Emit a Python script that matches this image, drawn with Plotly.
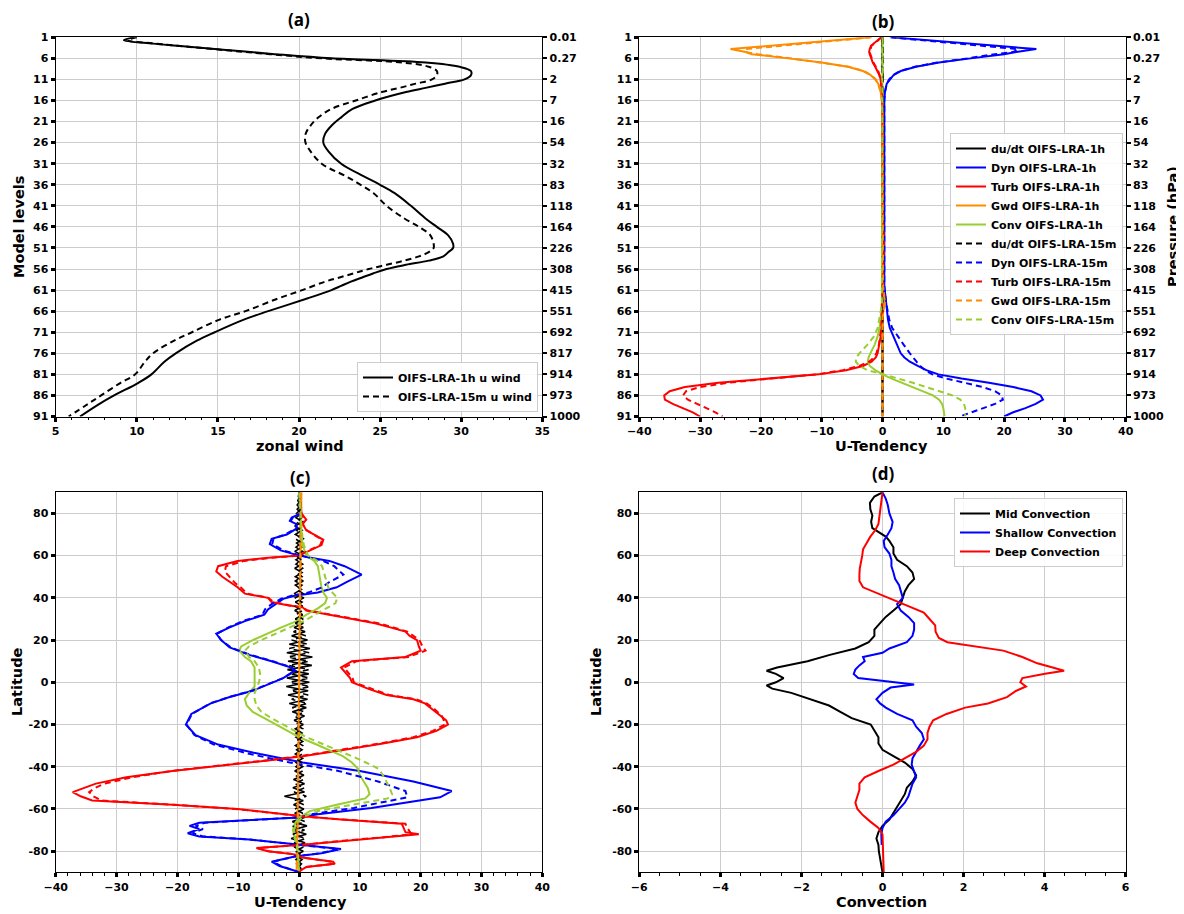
import plotly.graph_objects as go

# ---------------- DATA ----------------
# Panel (a): zonal wind vs model level
lev_a1 = [1, 1.7, 2.5, 3, 4, 5, 6, 7, 8, 9, 10, 11, 12, 13, 14, 16, 18, 20, 22, 24, 26, 28, 31, 34, 36, 38, 41, 44, 46, 48, 50, 51, 52,
          53, 54, 55, 56, 57, 58, 59, 60, 61, 63, 66, 68, 71, 73, 76, 78, 81, 83, 86, 88, 91]
u_1h = [9.8, 9.2, 11.0, 12.5, 15.5, 18.5, 22.0, 27.8, 29.9, 30.6, 30.6, 30.2, 29.0, 27.8, 26.6, 24.7, 23.3, 22.6, 22.0, 21.6, 21.5, 21.8,
        22.6, 24.0, 25.0, 25.9, 26.9, 27.8, 28.5, 29.2, 29.5, 29.5, 29.2, 28.9, 28.0, 26.6, 25.4, 24.6, 23.9, 23.2, 22.6, 22.0, 20.5,
        18.1, 16.6, 14.8, 13.7, 12.4, 11.7, 10.9, 10.1, 8.6, 7.7, 6.5]
lev_a2 = [1, 1.7, 2.5, 3, 4, 5, 6, 7, 8, 9, 10, 11, 12, 13, 14, 16, 18, 20, 22, 24, 26, 28, 31, 34, 36, 38, 41, 44, 46, 48, 50, 51, 52,
          53, 54, 55, 56, 57, 58, 59, 61, 63, 66, 68, 71, 73, 76, 78, 81, 83, 86, 88, 91]
u_15m = [10.0, 9.4, 11.2, 12.5, 15.3, 18.2, 21.4, 26.4, 28.0, 28.5, 28.5, 28.2, 27.2, 26.2, 25.1, 23.5, 22.0, 21.2, 20.7, 20.4, 20.4,
         20.7, 21.4, 22.9, 23.8, 24.6, 25.4, 26.5, 27.4, 28.1, 28.3, 28.3, 28.0, 27.4, 26.5, 25.4, 24.3, 23.4, 22.5, 21.6, 20.2,
         18.7, 16.7, 15.1, 13.4, 12.3, 11.0, 10.5, 9.9, 9.0, 7.8, 7.0, 5.8]

level_ticks = [1, 6, 11, 16, 21, 26, 31, 36, 41, 46, 51, 56, 61, 66, 71, 76, 81, 86, 91]
pressure_labels = ["0.01", "0.27", "2", "7", "16", "54", "32", "83", "118", "164", "226", "308", "415", "551",
                   "692", "817", "914", "973", "1000"]

# Panel (b): U-tendency profiles vs model level
lev_b = [1, 2, 3, 3.8, 4.5, 5, 6, 7, 8, 9, 10, 11, 12, 14, 16, 20, 30, 40, 50, 60,
         64, 66, 68, 70, 72, 74, 76, 77, 78, 79, 80, 81, 82, 83, 84, 85, 86, 87, 88, 89, 90, 91]
dudt_1h = [0.0, 0.1, -0.1, 0.1, 0.0, -0.1, 0.1, 0.0, -0.1, 0.0, 0.1, 0.0, -0.1, 0.0, 0.0, 0.0, 0.0, 0.0, 0.0, 0.0,
           0.0, 0.0, 0.0, 0.0, 0.0, 0.0, 0.0, 0.0, 0.0, 0.0, 0.0, 0.0, 0.0, 0.0, 0.0, 0.0, 0.0, 0.0, 0.0, 0.0, 0.0, 0.0]
dyn_1h = [1.5, 9.5, 17.5, 25.3, 22.0, 20.0, 14.5, 9.3, 5.5, 3.0, 1.8, 1.2, 0.7, 0.4, 0.3, 0.3, 0.3, 0.3, 0.3, 0.3,
          0.6, 0.7, 0.9, 1.2, 1.8, 2.4, 3.0, 3.6, 4.5, 5.8, 7.2, 9.2, 13.0, 17.5, 21.5, 24.5, 26.0, 26.4, 25.2, 23.5, 21.5, 20.0]
turb_1h = [-0.2, -1.0, -1.9, -2.1, -2.2, -2.1, -1.9, -1.6, -1.2, -0.8, -0.5, -0.3, -0.2, -0.1, -0.05, 0.0, 0.0, 0.0, 0.2, 0.0,
           0.0, 0.0, -0.1, -0.2, -0.3, -0.5, -0.8, -1.1, -1.8, -3.2, -6.0, -10.5, -19.0, -27.0, -32.5, -35.0, -35.9, -35.8,
           -34.5, -32.8, -31.2, -30.0]
gwd_1h = [-2.0, -10.0, -18.0, -25.0, -22.5, -21.5, -15.5, -10.0, -5.7, -3.2, -1.9, -1.2, -0.7, -0.3, -0.1, 0.0, 0.0, 0.0, 0.0, 0.1,
          0.4, 0.1, 0.0, 0.0, 0.0, 0.0, 0.0, 0.0, 0.0, 0.0, 0.0, 0.0, 0.0, 0.0, 0.0, 0.0, 0.0, 0.0, 0.0, 0.0, 0.0, 0.0]
conv_1h = [0.0, 0.0, 0.0, 0.0, 0.0, 0.0, 0.0, 0.0, 0.0, 0.0, 0.0, 0.0, 0.0, 0.0, 0.0, 0.0, 0.0, 0.0, 0.0, 0.0,
           -0.1, -0.2, -0.3, -0.5, -0.8, -1.3, -2.0, -2.3, -2.4, -2.1, -1.2, 0.0, 1.5, 3.2, 4.9, 6.8, 8.3, 9.3, 9.8, 10.0, 10.1, 10.2]
dudt_15m = [0.0, -0.1, 0.1, 0.0, 0.1, 0.0, -0.1, 0.1, 0.0, -0.1, 0.0, 0.1, 0.0, 0.0, 0.0, 0.0, 0.0, 0.0, 0.0, 0.0,
            0.0, 0.0, 0.0, 0.0, 0.0, 0.0, 0.0, 0.0, 0.0, 0.0, 0.0, 0.0, 0.0, 0.0, 0.0, 0.0, 0.0, 0.0, 0.0, 0.0, 0.0, 0.0]
dyn_15m = [1.3, 8.5, 16.0, 22.3, 21.5, 18.5, 14.0, 9.0, 5.3, 2.9, 1.7, 1.1, 0.7, 0.4, 0.3, 0.3, 0.3, 0.3, 0.3, 0.3,
           0.6, 0.8, 1.1, 1.6, 2.5, 3.5, 4.5, 5.0, 5.6, 6.2, 7.0, 8.2, 10.5, 13.5, 16.5, 18.5, 19.6, 19.8, 18.5, 16.6, 14.5, 12.7]
turb_15m = [-0.2, -0.9, -1.8, -2.0, -2.1, -2.0, -1.8, -1.5, -1.1, -0.7, -0.5, -0.3, -0.2, -0.1, -0.05, 0.0, 0.0, 0.0, 0.2, 0.0,
            0.0, 0.0, -0.1, -0.2, -0.4, -0.6, -1.0, -1.4, -2.2, -3.8, -6.5, -10.8, -18.5, -25.5, -30.0, -32.3, -32.8, -32.0,
            -30.5, -29.0, -27.5, -26.3]
gwd_15m = [-1.8, -9.0, -16.5, -22.5, -22.5, -20.5, -15.0, -9.8, -5.5, -3.1, -1.8, -1.1, -0.7, -0.3, -0.1, 0.0, 0.0, 0.0, 0.0, 0.1,
           0.4, 0.1, 0.0, 0.0, 0.0, 0.0, 0.0, 0.0, 0.0, 0.0, 0.0, 0.0, 0.0, 0.0, 0.0, 0.0, 0.0, 0.0, 0.0, 0.0, 0.0, 0.0]
conv_15m = [0.0, 0.0, 0.0, 0.0, 0.0, 0.0, 0.0, 0.0, 0.0, 0.0, 0.0, 0.0, 0.0, 0.0, 0.0, 0.0, 0.0, 0.0, 0.0, 0.0,
            -0.1, -0.3, -0.5, -0.8, -1.4, -2.5, -3.8, -4.3, -4.4, -3.8, -2.5, 0.3, 2.6, 5.0, 7.3, 9.5, 11.5, 12.8, 13.4, 13.6,
            13.6, 13.6]

# Panel (c): U-tendency vs latitude
lat_dyn = [90, 85, 80, 78, 76.5, 75, 73, 70, 68, 65.5, 62.5, 60, 57.5, 55, 51, 47.5, 45, 42.5, 41, 39.5, 37, 34.5, 32, 29, 26,
           23, 20, 16.5, 13, 10, 7, 5.5, 2, -1, -4, -7, -10, -15, -20, -25, -29.5, -34, -38, -42, -47, -51.5, -54.5, -59.5,
           -62.5, -64, -66.5, -68, -69.5, -71.5, -73, -74.5, -77, -79, -81, -82.5, -85, -87, -89.5, -90]
dyn_c_1h = [0.0, 0.2, 0.3, -1.2, -1.5, -0.5, -0.3, -2.0, -4.5, -4.8, -3.0, 0.0, 5.0, 7.5, 10.3, 7.8, 6.2, 3.1, -0.7, -2.6, -3.8,
            -5.1, -5.7, -8.9, -11.4, -13.6, -12.8, -11.4, -8.2, -4.5, -1.3, -0.7, -2.6, -5.1, -7.6, -11.4, -14.5, -17.7, -18.6,
            -17.0, -13.3, -6.4, 0.6, 10.0, 18.8, 25.1, 23.2, 11.9, 3.1, 0.0, -16.4, -18.0, -16.4, -18.3, -16.4, -8.2, 0.0, 6.9,
            3.7, -0.7, -4.5, -3.2, -0.4, 0.0]
dyn_c_15m = [0.0, 0.2, 0.3, -1.0, -1.4, -0.5, -0.4, -2.3, -4.2, -4.4, -2.6, 0.3, 4.0, 5.8, 7.3, 5.0, 3.8, 1.5, -1.2, -3.0, -4.5,
             -5.6, -6.0, -9.2, -11.6, -13.5, -12.8, -11.2, -8.0, -4.3, -1.2, -0.6, -2.6, -5.2, -7.8, -11.5, -14.6, -17.6, -18.5,
             -17.2, -14.0, -8.0, -1.5, 6.5, 13.0, 17.5, 17.8, 9.0, 2.0, 0.0, -15.5, -17.0, -15.8, -17.5, -15.8, -8.0, 0.0, 6.5,
             3.5, -0.7, -4.3, -3.0, -0.4, 0.0]
lat_turb = [90, 85, 80, 77, 75, 72, 70, 67.5, 65, 62.5, 60, 59, 57.5, 55, 52.5, 50, 47, 45, 42, 40, 38, 36.5, 35.5, 34, 32, 30, 28,
            26, 24, 22, 20, 17, 15, 12, 10, 7, 5, 2, 0, -3, -6, -8, -10, -13, -16, -18, -20, -23, -26, -29, -32, -35, -37, -39,
            -42, -45, -48, -50, -52, -54, -56, -58, -60, -62, -63.5, -65, -67, -69, -71, -72, -73.5, -75, -77, -78.5, -80, -81.5,
            -83, -85, -86, -87.5, -89, -90]
turb_c_1h = [0.0, 0.3, 0.4, 1.2, 0.6, 1.2, 2.5, 4.0, 3.7, 1.8, 0.0, -5.1, -10.1, -13.3, -13.6, -12.6, -11.1, -10.1, -8.9, -5.1,
             -4.5, -1.9, 0.6, 1.2, 5.0, 8.7, 12.5, 15.0, 17.5, 18.2, 19.4, 19.7, 20.0, 17.5, 8.7, 6.9, 7.5, 8.4, 8.7, 11.3, 14.4,
             18.8, 20.7, 22.0, 23.2, 24.2, 24.5, 22.6, 19.4, 13.8, 7.5, 0.6, -5.1, -11.4, -20.8, -28.4, -33.4, -35.3, -37.2, -35.9,
             -34.0, -20.8, -10.1, -3.8, 0.6, 6.9, 16.9, 17.2, 17.5, 19.7, 13.8, 7.5, 0.6, -7.0, -5.1, -0.7, 0.5, 5.6, 5.9, 1.2,
             0.3, 0.0]
turb_c_15m = [0.0, 0.3, 0.4, 1.0, 0.6, 1.3, 2.4, 3.8, 3.5, 1.6, 0.0, -4.5, -9.0, -12.0, -12.2, -11.5, -10.5, -9.6, -8.5, -5.0,
              -4.2, -1.7, 0.6, 1.4, 5.5, 9.2, 13.0, 15.5, 17.8, 18.8, 19.8, 20.3, 20.8, 18.0, 9.5, 7.4, 8.0, 8.8, 9.0, 11.8, 14.8,
              19.2, 21.0, 22.4, 23.5, 23.8, 24.0, 22.0, 18.8, 13.3, 7.0, 0.2, -5.5, -12.0, -21.0, -27.5, -32.0, -33.5, -34.5,
              -33.8, -32.5, -20.5, -10.5, -4.0, 0.4, 7.2, 17.5, 17.8, 18.2, 18.5, 13.5, 7.3, 0.6, -6.8, -5.0, -0.7, 0.5, 5.4, 5.6,
              1.2, 0.3, 0.0]
lat_conv = [90, 80, 70, 65, 60, 57.5, 55, 50, 45, 42.5, 40, 37.5, 35, 32, 29, 26, 23, 20, 17, 15, 12, 10, 7, 4, 1, -2, -5, -8,
            -11, -14, -17, -20, -23, -26, -29, -32, -35, -38, -41, -44, -47, -50, -53, -55, -58, -61, -64, -67, -70, -73, -76,
            -80, -90]
conv_c_1h = [0.0, 0.3, 0.4, 0.6, 1.2, 2.5, 3.1, 3.4, 3.7, 4.0, 4.6, 4.3, 3.1, 1.2, -0.4, -2.9, -5.4, -7.6, -9.5, -9.8, -8.9, -7.9,
             -7.3, -7.3, -7.2, -7.3, -8.2, -8.9, -8.6, -7.6, -5.7, -3.8, -1.9, 0.0, 2.5, 5.0, 7.2, 8.7, 9.7, 10.0, 10.6, 11.3,
             11.6, 10.9, 6.2, 1.8, 0.0, -0.7, -1.0, -0.8, -0.5, -0.2, 0.0]
conv_c_15m = [0.0, 0.3, 0.5, 0.8, 1.5, 3.0, 3.8, 4.3, 4.8, 5.5, 6.3, 6.0, 4.5, 2.5, 0.8, -1.5, -4.0, -6.2, -8.2, -8.9, -8.2, -7.3,
              -6.6, -6.4, -6.5, -6.8, -7.3, -7.3, -7.0, -6.2, -4.5, -2.6, -0.6, 1.2, 3.7, 6.3, 8.7, 11.0, 13.1, 13.8, 14.4, 14.9,
              15.3, 14.6, 8.7, 3.1, 0.5, -0.5, -0.8, -0.7, -0.4, -0.2, 0.0]
lat_gwd = [90, 60, 30, 0, -30, -60, -90]
gwd_c_1h = [0.4, 0.3, 0.1, 0.0, -0.1, -0.2, -0.4]
gwd_c_15m = [0.3, 0.2, 0.1, 0.0, -0.1, -0.2, -0.3]
lat_dudt = [90, 88, 86, 84, 82, 80, 78, 76, 74, 72, 70, 68, 66, 64, 62, 60, 58, 56, 54, 52, 50, 48, 46, 44, 42, 40, 38, 36, 34,
            32, 30, 28, 26, 24, 22, 20, 18, 16, 14, 12, 10, 8, 6, 4, 2, 0, -2, -4, -6, -8, -10, -12, -14, -16, -18, -20, -22, -24,
            -26, -28, -30, -32, -34, -36, -38, -40, -42, -44, -46, -48, -50, -52, -54, -56, -58, -60, -62, -64, -66, -68, -70,
            -72, -74, -76, -78, -80, -82, -84, -86, -88, -90]
dudt_c_1h = [0.0, 0.1, -0.2, 0.3, -0.3, 0.4, -0.5, 0.6, -0.7, 0.5, -0.6, 0.7, -0.4, 0.5, -0.7, 0.6, -0.5, 0.6, -0.7, 0.5, -0.6,
             0.7, -0.6, 0.4, -0.8, 0.8, -0.6, 0.6, -0.7, 0.6, -0.6, 0.7, -0.8, 1.0, -1.2, 1.4, -1.6, 1.8, -2.0, 2.2, -1.8, 2.1,
             -1.9, 1.6, -2.0, 1.7, -2.1, 1.5, -1.8, 1.4, -1.6, 1.2, -1.1, 0.9, -0.8, 0.7, -0.6, 0.5, -0.5, 0.6, -0.6, 0.5, -0.6,
             0.6, -0.5, 0.6, -0.7, 0.8, -0.9, 0.9, -1.0, 0.9, -2.4, 0.7, -0.9, 0.8, -0.7, 0.9, -1.1, 1.3, -1.0, 1.2, -1.3, 1.0,
             -0.8, 0.7, -0.6, 0.5, -0.4, 0.3, 0.0]
dudt_c_15m = [0.0, -0.1, 0.2, -0.3, 0.3, -0.4, 0.4, -0.5, 0.6, -0.4, 0.5, -0.6, 0.4, -0.5, 0.6, -0.5, 0.4, -0.5, 0.6, -0.4, 0.5,
              -0.6, 0.5, -0.4, 0.7, -0.6, 0.5, -0.6, 0.6, -0.5, 0.6, -0.6, 0.7, -0.9, 1.1, -1.2, 1.4, -1.6, 1.7, -1.8, 1.6, -1.7,
              1.6, -1.4, 1.7, -1.5, 1.8, -1.3, 1.5, -1.2, 1.4, -1.1, 0.9, -0.8, 0.7, -0.6, 0.6, -0.5, 0.4, -0.5, 0.6, -0.4, 0.5,
              -0.6, 0.4, -0.5, 0.6, -0.7, 0.8, -0.7, 0.9, -0.8, 1.2, -0.7, 0.8, -0.7, 0.6, -0.8, 1.0, -1.1, 0.9, -1.0, 1.1, -0.8,
              0.7, -0.6, 0.5, -0.5, 0.4, -0.2, 0.0]

# Panel (d): convection vs latitude
lat_mid = [90, 88, 85, 82, 79, 76, 73, 71, 69, 67, 64, 61, 58, 55, 52, 49, 46, 43, 40, 37, 34, 31, 28, 25, 22, 19, 16, 13, 10, 7,
           5.5, 4, 2, 0, -1.5, -3, -5, -8, -11, -14, -17, -20, -23, -26, -29, -32, -35, -38, -41, -44, -47, -50, -53, -56, -59,
           -62, -65, -68, -71, -74, -77, -80, -83, -86, -90]
mid_conv = [0.0, -0.2, -0.31, -0.3, -0.25, -0.28, -0.25, -0.1, 0.08, 0.17, 0.27, 0.27, 0.36, 0.6, 0.74, 0.78, 0.64, 0.55, 0.5,
            0.45, 0.27, 0.08, -0.06, -0.2, -0.2, -0.34, -0.67, -1.3, -1.85, -2.6, -2.86, -2.63, -2.44, -2.63, -2.86, -2.72,
            -2.25, -1.79, -1.32, -1.04, -0.76, -0.29, -0.2, -0.1, -0.1, 0.0, 0.27, 0.55, 0.74, 0.83, 0.74, 0.6, 0.55, 0.45,
            0.36, 0.27, 0.17, 0.0, -0.1, -0.15, -0.1, -0.09, -0.06, -0.03, 0.0]
lat_shallow = [90, 87, 84, 80, 76, 73, 70, 67, 64, 61, 58, 55, 52, 49, 46, 43, 40, 37, 34, 31, 28, 25, 22, 19, 16, 14, 12, 10, 8,
               6, 4, 2, 0, -1, -2.5, -5, -8, -10, -12, -15, -18, -21, -24, -27, -30, -33, -36, -39, -42, -45, -48, -51, -54, -57,
               -60, -63, -66, -69, -72, -75, -77]
shallow_conv = [0.0, 0.08, 0.13, 0.17, 0.25, 0.22, 0.13, 0.03, 0.05, 0.17, 0.22, 0.22, 0.27, 0.31, 0.41, 0.45, 0.5, 0.36, 0.45,
                0.64, 0.78, 0.78, 0.74, 0.6, 0.17, 0.0, -0.48, -0.44, -0.57, -0.67, -0.71, -0.6, 0.3, 0.78, 0.2, 0.0, -0.15,
                -0.06, 0.08, 0.36, 0.74, 0.83, 0.97, 1.02, 0.92, 0.83, 0.74, 0.72, 0.78, 0.83, 0.74, 0.69, 0.64, 0.55, 0.41, 0.27,
                0.08, 0.0, -0.03, -0.03, -0.02]
lat_deep = [90, 85, 80, 75, 72, 69, 66, 63, 60, 57, 54, 51, 48, 45, 42, 39, 36, 33, 30, 27, 24, 21, 19, 17, 15, 12, 9, 7, 5.5, 4,
            2, 0, -2, -4, -7, -10, -12, -15, -18, -21, -24, -27, -30, -33, -36, -39, -42, -45, -48, -51, -54, -57, -60, -63, -66,
            -69, -72, -76, -80, -90]
deep_conv = [0.0, -0.03, -0.06, -0.1, -0.18, -0.3, -0.39, -0.48, -0.5, -0.53, -0.56, -0.57, -0.57, -0.48, -0.1, 0.27, 0.64, 1.02,
             1.16, 1.3, 1.31, 1.39, 1.6, 2.3, 2.98, 3.45, 3.82, 4.2, 4.48, 4.01, 3.45, 3.4, 3.54, 3.3, 3.07, 2.6, 2.04, 1.58, 1.25,
             1.16, 1.11, 1.11, 1.02, 0.83, 0.55, 0.27, -0.1, -0.44, -0.57, -0.57, -0.62, -0.67, -0.62, -0.48, -0.3, -0.1, 0.0,
             0.01, 0.02, 0.03]

# ---------------- STYLE ----------------
OFF = 8  # page body margin in the browser
W, H = 1184 - OFF, 914 - OFF
BLUE, RED, ORANGE, GREEN, BLACK = "#0000ff", "#ff0000", "#ff8c00", "#9acd32", "#000000"
DASH = "6px,4px"
TF = dict(family="DejaVu Sans", size=11, color="black", weight="bold")
LF = dict(family="DejaVu Sans", size=11, color="black", weight="bold")
AF = dict(family="DejaVu Sans", size=14.5, color="black", weight="bold")
PF = dict(family="Open Sans", size=17, color="black", weight="bold")

def px_x(p):
    return (p - OFF) / W

def px_y(p):
    return 1 - (p - OFF) / H

dom_x_left = [px_x(55.7), px_x(542.3)]
dom_x_right = [px_x(639.3), px_x(1125.7)]
dom_y_top = [px_y(416.5), px_y(37.3)]
dom_y_bot = [px_y(872.3), px_y(492.3)]

fig = go.Figure()

def add(x, y, color, dash, name, xa, ya, legend=None, show=True, shape="linear", width=2):
    fig.add_trace(go.Scatter(
        x=x, y=y, mode="lines", name=name, xaxis=xa, yaxis=ya,
        line=dict(color=color, width=width, dash=dash, shape=shape),
        showlegend=show and legend is not None, legend=legend if legend else "legend",
        hoverinfo="skip"))

# Panel (a)
add(u_1h, lev_a1, BLACK, "solid", "OIFS-LRA-1h u wind", "x", "y", "legend", shape="spline")
add(u_15m, lev_a2, BLACK, DASH, "OIFS-LRA-15m u wind", "x", "y", "legend", shape="spline")
fig.add_trace(go.Scatter(x=u_1h, y=lev_a1, xaxis="x", yaxis="y5", mode="lines", opacity=0,
                         showlegend=False, hoverinfo="skip"))

# Panel (b)
b1 = [(dudt_1h, BLACK, "du/dt OIFS-LRA-1h"), (dyn_1h, BLUE, "Dyn OIFS-LRA-1h"), (turb_1h, RED, "Turb OIFS-LRA-1h"),
      (gwd_1h, ORANGE, "Gwd OIFS-LRA-1h"), (conv_1h, GREEN, "Conv OIFS-LRA-1h")]
b2 = [(dudt_15m, BLACK, "du/dt OIFS-LRA-15m"), (dyn_15m, BLUE, "Dyn OIFS-LRA-15m"), (turb_15m, RED, "Turb OIFS-LRA-15m"),
      (gwd_15m, ORANGE, "Gwd OIFS-LRA-15m"), (conv_15m, GREEN, "Conv OIFS-LRA-15m")]
for vals, col, nm in b1:
    add(vals, lev_b, col, "solid", nm, "x2", "y2", "legend2")
for vals, col, nm in b2:
    add(vals, lev_b, col, DASH, nm, "x2", "y2", "legend2")
fig.add_trace(go.Scatter(x=dyn_1h, y=lev_b, xaxis="x2", yaxis="y6", mode="lines", opacity=0,
                         showlegend=False, hoverinfo="skip"))

# Panel (c)
add(dudt_c_1h, lat_dudt, BLACK, "solid", "", "x3", "y3", None, width=1.6)
add(dyn_c_1h, lat_dyn, BLUE, "solid", "", "x3", "y3", None)
add(turb_c_1h, lat_turb, RED, "solid", "", "x3", "y3", None)
add(gwd_c_1h, lat_gwd, ORANGE, "solid", "", "x3", "y3", None)
add(conv_c_1h, lat_conv, GREEN, "solid", "", "x3", "y3", None)
add(dudt_c_15m, lat_dudt, BLACK, DASH, "", "x3", "y3", None, width=1.6)
add(dyn_c_15m, lat_dyn, BLUE, DASH, "", "x3", "y3", None)
add(turb_c_15m, lat_turb, RED, DASH, "", "x3", "y3", None)
add(gwd_c_15m, lat_gwd, ORANGE, DASH, "", "x3", "y3", None)
add(conv_c_15m, lat_conv, GREEN, DASH, "", "x3", "y3", None)

# Panel (d)
add(mid_conv, lat_mid, BLACK, "solid", "Mid Convection", "x4", "y4", "legend3")
add(shallow_conv, lat_shallow, BLUE, "solid", "Shallow Convection", "x4", "y4", "legend3")
add(deep_conv, lat_deep, RED, "solid", "Deep Convection", "x4", "y4", "legend3")

# ---------------- AXES ----------------
GRID = "#cccccc"

def xaxis(domain, rng, dtick, mdtick, anchor):
    return dict(domain=domain, range=rng, dtick=dtick, tick0=rng[0], anchor=anchor, automargin=False,
                showgrid=True, gridcolor=GRID, gridwidth=1, zeroline=False,
                showline=True, linecolor="black", linewidth=1.2, mirror=True,
                ticks="outside", ticklen=4, tickwidth=3, tickcolor="black", tickfont=TF,
                minor=dict(ticks="outside", ticklen=2.5, tickwidth=1, tickcolor="black", dtick=mdtick,
                           tick0=rng[0], showgrid=False))

def yaxis(domain, rng, tickvals, anchor):
    return dict(domain=domain, range=rng, tickvals=tickvals, ticktext=[str(v) for v in tickvals], anchor=anchor,
                automargin=False, showgrid=True, gridcolor=GRID, gridwidth=1, zeroline=False,
                showline=True, linecolor="black", linewidth=1.2, mirror=True,
                ticks="outside", ticklen=4, tickwidth=3, tickcolor="black", tickfont=TF)

def yright(over, anchor):
    return dict(overlaying=over, side="right", anchor=anchor, range=[91, 1], tickvals=level_ticks, automargin=False,
                ticktext=pressure_labels, showgrid=False, zeroline=False, showline=True, linecolor="black",
                linewidth=1.2, ticks="outside", ticklen=4, tickwidth=1.5, tickcolor="black", tickfont=TF)

lat_ticks = [-80, -60, -40, -20, 0, 20, 40, 60, 80]

fig.update_layout(
    width=W, height=H, autosize=False,
    margin=dict(l=0, r=0, t=0, b=0, pad=0, autoexpand=False),
    paper_bgcolor="white", plot_bgcolor="white",
    xaxis=xaxis(dom_x_left, [5, 35], 5, 1, "y"),
    yaxis=yaxis(dom_y_top, [91, 1], level_ticks, "x"),
    yaxis5=yright("y", "x"),
    xaxis2=xaxis(dom_x_right, [-40, 40], 10, 2, "y2"),
    yaxis2=yaxis(dom_y_top, [91, 1], level_ticks, "x2"),
    yaxis6=yright("y2", "x2"),
    xaxis3=xaxis(dom_x_left, [-40, 40], 10, 2, "y3"),
    yaxis3=yaxis(dom_y_bot, [-90, 90], lat_ticks, "x3"),
    xaxis4=xaxis(dom_x_right, [-6, 6], 2, 0.5, "y4"),
    yaxis4=yaxis(dom_y_bot, [-90, 90], lat_ticks, "x4"),
    legend=dict(x=px_x(538), y=px_y(412), xanchor="right", yanchor="bottom", font=LF,
                bgcolor="rgba(255,255,255,0.85)", bordercolor="#cccccc", borderwidth=1, itemwidth=30,
                tracegroupgap=0),
    legend2=dict(x=px_x(950), y=px_y(133), xanchor="left", yanchor="top", font=LF,
                 bgcolor="rgba(255,255,255,0.85)", bordercolor="#cccccc", borderwidth=1, itemwidth=30,
                 tracegroupgap=0),
    legend3=dict(x=px_x(954), y=px_y(498), xanchor="left", yanchor="top", font=LF,
                 bgcolor="rgba(255,255,255,0.85)", bordercolor="#cccccc", borderwidth=1, itemwidth=30,
                 tracegroupgap=0),
)

def ann(text, xp, yp, font, angle=0):
    fig.add_annotation(text=text, x=px_x(xp), y=px_y(yp), xref="paper", yref="paper", showarrow=False,
                       xanchor="center", yanchor="middle", font=font, textangle=angle)

ann("(a)", 299, 20, PF)
ann("(b)", 883, 22, PF)
ann("(c)", 300, 477, PF)
ann("(d)", 883, 474, PF)
ann("zonal wind", 300, 446, AF)
ann("U-Tendency", 881, 446, AF)
ann("U-Tendency", 300, 902, AF)
ann("Convection", 881, 902, AF)
ann("Model levels", 19, 227, AF, -90)
ann("Pressure (hPa)", 1173, 227, AF, -90)
ann("Latitude", 17, 682, AF, -90)
ann("Latitude", 596, 682, AF, -90)

fig.write_html("out.html")
